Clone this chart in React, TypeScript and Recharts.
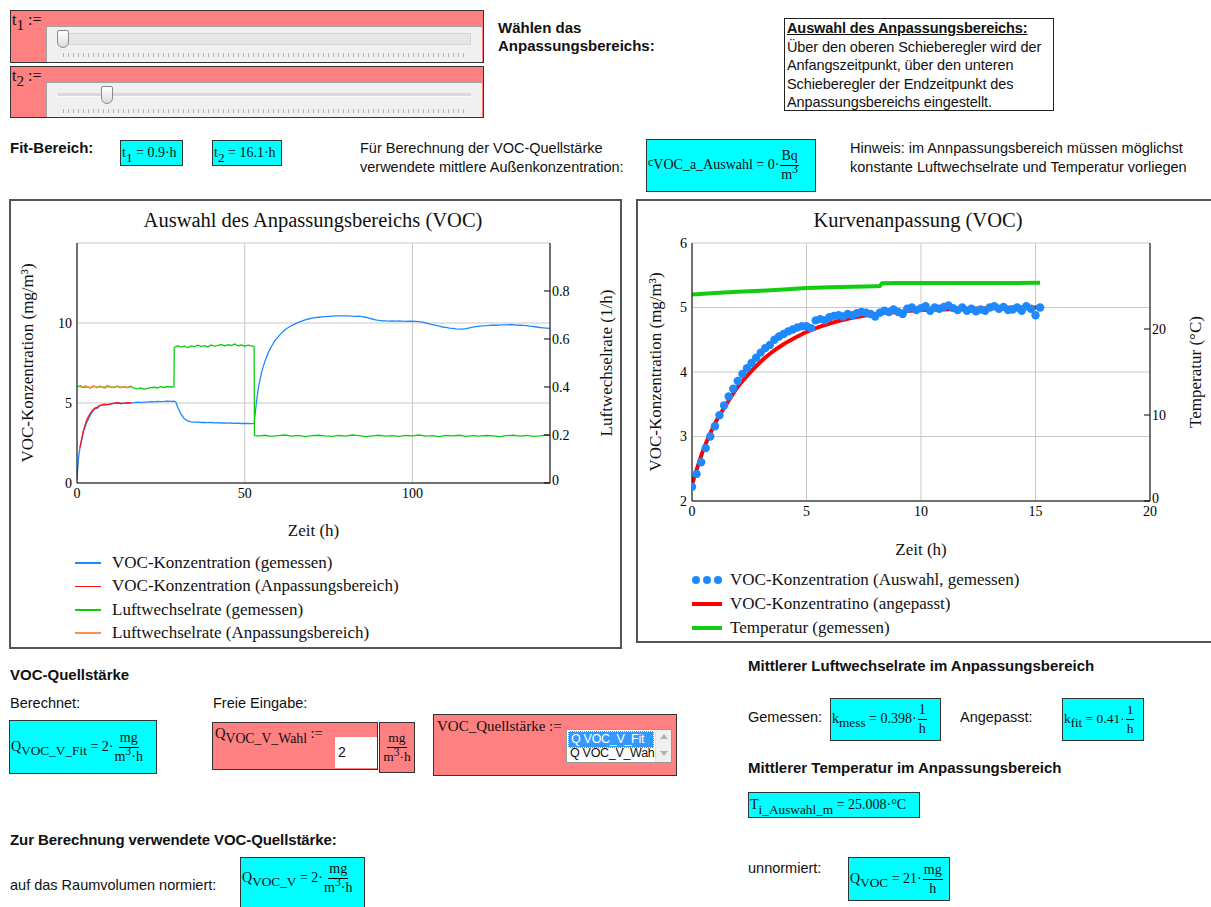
import React from 'react';
import { ComposedChart, Line, Scatter, XAxis, YAxis, CartesianGrid } from 'recharts';

// ---------------- Data: left chart (Auswahl des Anpassungsbereichs) ----------------
const vocMeasuredT = [0, 0.3, 0.6, 0.9, 2, 3, 4, 5, 6, 7, 8, 9, 10, 11, 12, 13, 14, 15, 16, 17, 18, 19, 20, 21, 22, 23, 24, 25, 26, 27, 28, 29, 29.5, 30, 31, 32, 33, 34, 35, 36, 37, 38, 39, 40, 41, 42, 43, 44, 45, 46, 47, 48, 49, 50, 51, 52, 52.8, 53.2, 53.7, 54.2, 55, 56, 57, 58, 59, 60, 61, 62, 63, 64, 65, 66, 67, 68, 69, 70, 71, 72, 73, 74, 75, 76, 77, 78, 79, 80, 81, 82, 83, 84, 85, 86, 87, 88, 89, 90, 91, 92, 93, 94, 95, 96, 97, 98, 99, 100, 101, 102, 103, 104, 105, 106, 107, 108, 109, 110, 111, 112, 113, 114, 115, 116, 117, 118, 119, 120, 121, 122, 123, 124, 125, 126, 127, 128, 129, 130, 131, 132, 133, 134, 135, 136, 137, 138, 139, 140, 141];
const vocMeasuredV = [0.2, 1.2, 1.8, 2.22, 3.3, 3.82, 4.25, 4.57, 4.7, 4.84, 4.88, 4.9, 4.93, 4.98, 5.0, 4.97, 4.98, 5.01, 5.0, 5.02, 5.05, 5.03, 5.06, 5.05, 5.08, 5.07, 5.1, 5.09, 5.1, 5.12, 5.1, 5.12, 5.05, 4.75, 4.3, 4.02, 3.88, 3.82, 3.8, 3.8, 3.78, 3.79, 3.77, 3.78, 3.76, 3.77, 3.75, 3.76, 3.74, 3.75, 3.73, 3.74, 3.72, 3.73, 3.72, 3.71, 3.72, 4.5, 5.4, 6.1, 6.9, 7.6, 8.15, 8.55, 8.9, 9.15, 9.38, 9.58, 9.72, 9.84, 9.94, 10.04, 10.12, 10.19, 10.25, 10.3, 10.33, 10.36, 10.38, 10.4, 10.42, 10.43, 10.44, 10.45, 10.44, 10.45, 10.44, 10.43, 10.42, 10.43, 10.4, 10.36, 10.3, 10.25, 10.2, 10.16, 10.14, 10.13, 10.12, 10.13, 10.12, 10.13, 10.12, 10.1, 10.11, 10.12, 10.1, 10.08, 10.05, 10.0, 9.95, 9.9, 9.85, 9.8, 9.75, 9.72, 9.68, 9.66, 9.63, 9.62, 9.62, 9.65, 9.7, 9.74, 9.77, 9.8, 9.82, 9.83, 9.85, 9.86, 9.86, 9.87, 9.88, 9.88, 9.9, 9.89, 9.87, 9.86, 9.85, 9.83, 9.8, 9.78, 9.75, 9.72, 9.7, 9.68, 9.66];

const vocSelectedT = [0.9, 1.3, 1.7, 2.1, 2.5, 2.9, 3.3, 3.7, 4.1, 4.5, 4.9, 5.3, 5.7, 6.1, 6.5, 6.9, 7.5, 8.1, 9.1, 10.1, 11.1, 12.1, 13.1, 14.1, 15.1, 16.1];
const vocSelectedV = [2.22, 2.62, 3.05, 3.4, 3.68, 3.92, 4.1, 4.26, 4.4, 4.52, 4.6, 4.67, 4.72, 4.68, 4.82, 4.85, 4.88, 4.92, 4.9, 4.95, 4.99, 5.02, 4.97, 4.99, 5.02, 5.0];

const airMeasuredT = [0, 1, 2, 3, 4, 5, 6, 7, 8, 9, 10, 11, 12, 13, 14, 15, 16, 17, 18, 19, 20, 21, 22, 23, 24, 25, 26, 27, 28, 28.9, 29.0, 30, 31, 32, 33, 34, 35, 36, 37, 38, 39, 40, 41, 42, 43, 44, 45, 46, 47, 48, 49, 50, 51, 52, 52.8, 52.9, 54, 56, 58, 60, 62, 64, 66, 68, 70, 72, 74, 76, 78, 80, 82, 84, 86, 88, 90, 92, 94, 96, 98, 100, 102, 104, 106, 108, 110, 112, 114, 116, 118, 120, 122, 124, 126, 128, 130, 132, 134, 136, 138, 140, 141];
const airMeasuredV = [0.4, 0.405, 0.398, 0.402, 0.396, 0.404, 0.399, 0.402, 0.397, 0.405, 0.4, 0.398, 0.403, 0.399, 0.401, 0.397, 0.403, 0.395, 0.392, 0.396, 0.39, 0.394, 0.397, 0.399, 0.396, 0.401, 0.398, 0.402, 0.4, 0.401, 0.565, 0.572, 0.566, 0.57, 0.564, 0.571, 0.568, 0.574, 0.569, 0.572, 0.567, 0.575, 0.57, 0.573, 0.577, 0.571, 0.576, 0.573, 0.579, 0.572, 0.575, 0.57, 0.574, 0.571, 0.568, 0.198, 0.195, 0.199, 0.194, 0.197, 0.2, 0.195, 0.198, 0.193, 0.197, 0.199, 0.196, 0.194, 0.198, 0.195, 0.2, 0.197, 0.193, 0.196, 0.199, 0.195, 0.197, 0.194, 0.198, 0.196, 0.2, 0.195, 0.197, 0.193, 0.198, 0.196, 0.199, 0.194, 0.197, 0.195, 0.198, 0.196, 0.193, 0.197, 0.199, 0.195, 0.198, 0.194, 0.196, 0.2, 0.197];

const airSelectedT = [0.9, 1.4, 1.9, 2.4, 2.9, 3.4, 3.9, 4.4, 4.9, 5.4, 5.9, 6.4, 6.9, 7.4, 7.9, 8.4, 8.9, 9.4, 9.9, 10.4, 10.9, 11.4, 11.9, 12.4, 12.9, 13.4, 13.9, 14.4, 14.9, 15.4, 15.9, 16.1];
const airSelectedV = [0.403, 0.397, 0.401, 0.406, 0.398, 0.402, 0.395, 0.404, 0.399, 0.403, 0.396, 0.401, 0.405, 0.398, 0.4, 0.394, 0.402, 0.399, 0.404, 0.397, 0.401, 0.398, 0.405, 0.4, 0.396, 0.402, 0.399, 0.403, 0.397, 0.401, 0.398, 0.4];

// ---------------- Data: right chart (Kurvenanpassung) ----------------
const fitDotsT = [0, 0.2, 0.4, 0.6, 0.8, 1.0, 1.2, 1.4, 1.6, 1.8, 2.0, 2.2, 2.4, 2.6, 2.8, 3.0, 3.2, 3.4, 3.6, 3.8, 4.0, 4.2, 4.4, 4.6, 4.8, 5.0, 5.2, 5.4, 5.6, 5.8, 6.0, 6.2, 6.4, 6.6, 6.8, 7.0, 7.2, 7.4, 7.6, 7.8, 8.0, 8.2, 8.4, 8.6, 8.8, 9.0, 9.2, 9.4, 9.6, 9.8, 10.0, 10.2, 10.4, 10.6, 10.8, 11.0, 11.2, 11.4, 11.6, 11.8, 12.0, 12.2, 12.4, 12.6, 12.8, 13.0, 13.2, 13.4, 13.6, 13.8, 14.0, 14.2, 14.4, 14.6, 14.8, 15.0, 15.2];
const fitDotsV = [2.22, 2.42, 2.6, 2.82, 3.0, 3.16, 3.33, 3.48, 3.62, 3.74, 3.86, 3.97, 4.06, 4.14, 4.22, 4.3, 4.37, 4.42, 4.5, 4.55, 4.59, 4.63, 4.66, 4.69, 4.71, 4.71, 4.68, 4.8, 4.82, 4.8, 4.85, 4.87, 4.88, 4.86, 4.9, 4.88, 4.91, 4.93, 4.92, 4.9, 4.86, 4.92, 4.95, 4.93, 4.97, 4.93, 4.9, 4.98, 5.0, 4.96, 4.99, 5.02, 4.95, 5.0, 4.98, 5.01, 5.03, 4.99, 4.96, 5.0, 4.95, 4.98, 4.94, 4.97, 4.95, 5.0, 5.02, 4.98, 5.01, 4.96, 4.97, 5.0, 4.95, 5.02, 4.98, 4.88, 5.0];

const fitCurveT = [0, 0.5, 1, 1.5, 2, 2.5, 3, 3.5, 4, 4.5, 5, 6, 7, 8, 9, 10, 11, 12, 13, 14, 15.2];
const fitCurveV = [2.25, 2.8, 3.2, 3.5, 3.77, 3.98, 4.16, 4.31, 4.43, 4.53, 4.62, 4.75, 4.84, 4.9, 4.93, 4.96, 4.97, 4.98, 4.99, 5.0, 5.0];

const tempT = [0, 1, 2, 3, 4, 5, 6, 7, 8, 8.2, 8.3, 9, 10, 11, 12, 13, 14, 15, 15.2];
const tempV = [24.0, 24.18, 24.32, 24.45, 24.6, 24.78, 24.85, 24.92, 24.98, 25.0, 25.33, 25.34, 25.35, 25.35, 25.36, 25.36, 25.36, 25.37, 25.37];

// ---------------- Axis ticks / labels ----------------
const leftXTicks = [0, 50, 100];
const leftYTicks = [0, 5, 10];
const leftY2Ticks = [0, 0.2, 0.4, 0.6, 0.8];
const rightXTicks = [0, 5, 10, 15, 20];
const rightYTicks = [2, 3, 4, 5, 6];
const rightY2Ticks = [0, 10, 20];

const leftLegend = [
  { name: 'VOC-Konzentration (gemessen)', color: '#1e88ff' },
  { name: 'VOC-Konzentration (Anpassungsbereich)', color: '#ff1010' },
  { name: 'Luftwechselrate (gemessen)', color: '#10cc10' },
  { name: 'Luftwechselrate (Anpassungsbereich)', color: '#ff8c50' },
];
const rightLegend = [
  { name: 'VOC-Konzentration (Auswahl, gemessen)', color: '#1e88ff', dots: true },
  { name: 'VOC-Konzentratino (angepasst)', color: '#ff0000', dots: false },
  { name: 'Temperatur (gemessen)', color: '#11cc11', dots: false },
];

const zip = (t: number[], v: number[]) => t.map((x, i) => ({ t: x, v: v[i] }));
const leftBlue = zip(vocMeasuredT, vocMeasuredV);
const leftRed = zip(vocSelectedT, vocSelectedV);
const leftGreen = zip(airMeasuredT, airMeasuredV);
const leftOrange = zip(airSelectedT, airSelectedV);
const rightDots = zip(fitDotsT, fitDotsV);
const rightFit = zip(fitCurveT, fitCurveV);
const rightTemp = zip(tempT, tempV);

const SERIF = '"Liberation Serif", "Times New Roman", serif';
const SANS = '"Liberation Sans", Arial, sans-serif';
const PINK = '#ff8080';
const CYAN = '#00ffff';

const tickStyle = { fontFamily: SERIF, fontSize: 14, fill: '#000' };

function Txt({ x, y, size = 13, bold = false, font = SANS, children, style }: any) {
  const lh = Math.round(size * 1.3);
  return (
    <div style={{ position: 'absolute', left: x, top: y - lh / 2, fontSize: size, lineHeight: `${lh}px`, fontFamily: font, fontWeight: bold ? 700 : 400, whiteSpace: 'nowrap', color: '#111', ...style }}>
      {children}
    </div>
  );
}

function Frac({ n, d }: any) {
  return (
    <span style={{ display: 'inline-flex', flexDirection: 'column', alignItems: 'center', verticalAlign: 'middle', lineHeight: '18px', margin: '0 1px' }}>
      <span style={{ borderBottom: '1px solid #000', padding: '0 1px' }}>{n}</span>
      <span>{d}</span>
    </span>
  );
}

function MBox({ x, y, w, h, bg = CYAN, children, style, top }: any) {
  return (
    <div style={{ position: 'absolute', left: x, top: y, width: w, height: h, boxSizing: 'border-box', background: bg, border: '1px solid #333', display: 'flex', alignItems: top ? 'flex-start' : 'center', fontFamily: SERIF, fontSize: 14, whiteSpace: 'nowrap', paddingLeft: 1, overflow: 'hidden', ...style }}>
      <span style={{ display: 'inline-block', lineHeight: '18px' }}>{children}</span>
    </div>
  );
}

const Sub = ({ children }: any) => <sub style={{ fontSize: '0.95em', verticalAlign: '-0.35em', lineHeight: 0 }}>{children}</sub>;
const M3H = () => <span>m<sup style={{ fontSize: '0.85em', lineHeight: 0 }}>3</sup>·h</span>;

function Slider({ top, h, thumbLeft, wideTrack, label }: any) {
  return (
    <div style={{ position: 'absolute', left: 10, top, width: 474, height: h, background: PINK, border: '1px solid #333', boxSizing: 'border-box' }}>
      <div style={{ position: 'absolute', left: 1, top: 0, fontFamily: SERIF, fontSize: 16 }}>
        t<Sub>{label}</Sub> :=
      </div>
      <div style={{ position: 'absolute', left: 35, top: 15, width: 436, height: h - 17, background: '#f0f0f0', borderTop: '1px solid #a0a0a0', borderLeft: '1px solid #a0a0a0', boxSizing: 'border-box' }}>
        {wideTrack ? (
          <div style={{ position: 'absolute', left: 12, top: 6, width: 412, height: 12, background: '#e4e6e8', border: '1px solid #d4d4d4', boxSizing: 'border-box' }} />
        ) : (
          <div style={{ position: 'absolute', left: 11, top: 10, width: 413, height: 3, background: '#d8d8d8', borderBottom: '1px solid #f8f8f8' }} />
        )}
        <div style={{ position: 'absolute', left: thumbLeft, top: 3, width: 12, height: 18, background: 'linear-gradient(#ffffff, #dcdcdc)', border: '1px solid #8a8a8a', borderRadius: '2px 2px 6px 6px', boxSizing: 'border-box' }} />
        <div style={{ position: 'absolute', left: 16, top: 26, width: 404, height: 4, background: 'repeating-linear-gradient(90deg, #b0b0b0 0 1px, transparent 1px 5px)' }} />
      </div>
    </div>
  );
}

const XTitle = ({ viewBox, value, dy }: any) => (
  <text x={viewBox.x + viewBox.width / 2} y={viewBox.y + dy} textAnchor="middle" dominantBaseline="central" fontFamily={SERIF} fontSize={17} fill="#111">
    {value}
  </text>
);
const YTitle = ({ viewBox, value, dx }: any) => {
  const cx = viewBox.x + dx;
  const cy = viewBox.y + viewBox.height / 2;
  return (
    <text x={cx} y={cy} transform={`rotate(-90 ${cx} ${cy})`} textAnchor="middle" dominantBaseline="central" fontFamily={SERIF} fontSize={17} fill="#111">
      {value}
    </text>
  );
};

const rightTick = (props: any) => {
  const { x, y, payload } = props;
  return (
    <g>
      <line x1={x - 6} x2={x} y1={y} y2={y} stroke="#000" />
      <text x={x + 2} y={payload.value === 0 ? y - 3 : y} dy="0.35em" textAnchor="start" {...tickStyle}>
        {String(payload.value)}
      </text>
    </g>
  );
};

function LeftChart() {
  return (
    <div style={{ position: 'absolute', left: 11, top: 201 }}>
      <ComposedChart width={609} height={446} margin={{ top: 42, right: 10, bottom: 134, left: 0 }}>
        <CartesianGrid xAxisId={0} yAxisId="l" stroke="#c8c8c8" />
        <XAxis xAxisId={0} dataKey="t" type="number" domain={[0, 141]} ticks={leftXTicks} allowDataOverflow height={30} tickSize={0} tickMargin={5} tick={tickStyle} axisLine={{ stroke: '#000' }} label={<XTitle value="Zeit (h)" dy={47} />} />
        <XAxis xAxisId="top" orientation="top" dataKey="t" type="number" domain={[0, 141]} allowDataOverflow height={0} tick={false} tickLine={false} axisLine={{ stroke: '#000' }} />
        <YAxis yAxisId="l" type="number" domain={[0, 15]} ticks={leftYTicks} allowDataOverflow width={66} tickSize={0} tickMargin={5} tick={tickStyle} axisLine={{ stroke: '#000' }} label={<YTitle value="VOC-Konzentration (mg/m³)" dx={16} />} />
        <YAxis yAxisId="r" orientation="right" type="number" domain={[0, 1]} ticks={leftY2Ticks} allowDataOverflow width={60} tickSize={0} tickMargin={0} tickLine={false} tick={rightTick} axisLine={{ stroke: '#000' }} label={<YTitle value="Luftwechselrate (1/h)" dx={56} />} />
        <Line data={leftBlue} dataKey="v" xAxisId={0} yAxisId="l" type="linear" stroke={leftLegend[0].color} strokeWidth={1.3} dot={false} isAnimationActive={false} />
        <Line data={leftRed} dataKey="v" xAxisId={0} yAxisId="l" type="linear" stroke={leftLegend[1].color} strokeWidth={1.3} dot={false} isAnimationActive={false} />
        <Line data={leftGreen} dataKey="v" xAxisId={0} yAxisId="r" type="linear" stroke={leftLegend[2].color} strokeWidth={1.3} dot={false} isAnimationActive={false} />
        <Line data={leftOrange} dataKey="v" xAxisId={0} yAxisId="r" type="linear" stroke={leftLegend[3].color} strokeWidth={1.3} dot={false} isAnimationActive={false} />
      </ComposedChart>
    </div>
  );
}

function RightChart() {
  return (
    <div style={{ position: 'absolute', left: 638, top: 201 }}>
      <ComposedChart width={572} height={440} margin={{ top: 42, right: 10, bottom: 110, left: 0 }}>
        <CartesianGrid xAxisId={0} yAxisId="l" stroke="#c8c8c8" />
        <XAxis xAxisId={0} dataKey="t" type="number" domain={[0, 20]} ticks={rightXTicks} allowDataOverflow height={30} tickSize={0} tickMargin={5} tick={tickStyle} axisLine={{ stroke: '#000' }} label={<XTitle value="Zeit (h)" dy={48} />} />
        <XAxis xAxisId="top" orientation="top" dataKey="t" type="number" domain={[0, 20]} allowDataOverflow height={0} tick={false} tickLine={false} axisLine={{ stroke: '#000' }} />
        <YAxis yAxisId="l" type="number" domain={[2, 6]} ticks={rightYTicks} allowDataOverflow width={54} tickSize={0} tickMargin={5} tick={tickStyle} axisLine={{ stroke: '#000' }} label={<YTitle value="VOC-Konzentration (mg/m³)" dx={17} />} />
        <YAxis yAxisId="r" orientation="right" type="number" domain={[0, 30]} ticks={rightY2Ticks} allowDataOverflow width={50} tickSize={0} tickMargin={0} tickLine={false} tick={rightTick} axisLine={{ stroke: '#000' }} label={<YTitle value="Temperatur (°C)" dx={45} />} />
        <Scatter data={rightDots} dataKey="v" xAxisId={0} yAxisId="l" fill={rightLegend[0].color} isAnimationActive={false} shape={(p: any) => <circle cx={p.cx} cy={p.cy} r={4.2} fill={rightLegend[0].color} />} />
        <Line data={rightFit} dataKey="v" xAxisId={0} yAxisId="l" type="monotone" stroke={rightLegend[1].color} strokeWidth={4} dot={false} isAnimationActive={false} />
        <Line data={rightTemp} dataKey="v" xAxisId={0} yAxisId="r" type="linear" stroke={rightLegend[2].color} strokeWidth={4} dot={false} isAnimationActive={false} />
      </ComposedChart>
    </div>
  );
}

const arrowUp = { width: 0, height: 0, borderLeft: '4px solid transparent', borderRight: '4px solid transparent', borderBottom: '5px solid #b0b0b0', margin: '4px auto 0' };
const arrowDown = { width: 0, height: 0, borderLeft: '4px solid transparent', borderRight: '4px solid transparent', borderTop: '5px solid #b0b0b0', margin: '12px auto 0' };

export default function App() {
  return (
    <div style={{ position: 'absolute', left: 0, top: 0, width: 1211, height: 907, background: '#fff', overflow: 'hidden', fontFamily: SANS, color: '#111' }}>
      {/* Sliders */}
      <Slider top={10} h={53} thumbLeft={10} wideTrack label="1" />
      <Slider top={66} h={52} thumbLeft={54} wideTrack={false} label="2" />

      <Txt x={498} y={28} size={15} bold>Wählen das</Txt>
      <Txt x={498} y={46} size={15} bold>Anpassungsbereichs:</Txt>

      <div style={{ position: 'absolute', left: 784, top: 18, width: 270, height: 93, border: '1px solid #222', boxSizing: 'border-box', fontFamily: SANS, fontSize: 14.5, lineHeight: '18.5px', padding: '0 0 0 2px', whiteSpace: 'nowrap', letterSpacing: '-0.1px' }}>
        <div style={{ fontWeight: 700, textDecoration: 'underline' }}>Auswahl des Anpassungsbereichs:</div>
        <div>Über den oberen Schieberegler wird der</div>
        <div>Anfangszeitpunkt, über den unteren</div>
        <div>Schieberegler der Endzeitpunkt des</div>
        <div>Anpassungsbereichs eingestellt.</div>
      </div>

      <Txt x={10} y={148} size={15} bold>Fit-Bereich:</Txt>
      <MBox x={120} y={140} w={63} h={26}>t<Sub>1</Sub> = 0.9·h</MBox>
      <MBox x={212} y={140} w={70} h={26}>t<Sub>2</Sub> = 16.1·h</MBox>

      <Txt x={360} y={148} size={14.5}>Für Berechnung der VOC-Quellstärke</Txt>
      <Txt x={360} y={167} size={14.5}>verwendete mittlere Außenkonzentration:</Txt>
      <MBox x={646} y={139} w={170} h={53}>
        <span style={{ fontSize: 12, verticalAlign: '0.25em' }}>c</span>VOC_a_Auswahl = 0·<Frac n="Bq" d={<span>m<sup style={{ fontSize: '0.85em', lineHeight: 0 }}>3</sup></span>} />
      </MBox>
      <Txt x={850} y={148} size={14.5}>Hinweis: im Annpassungsbereich müssen möglichst</Txt>
      <Txt x={850} y={167} size={14.5}>konstante Luftwechselrate und Temperatur vorliegen</Txt>

      {/* Chart panels */}
      <div style={{ position: 'absolute', left: 9, top: 199, width: 613, height: 450, border: '2px solid #555', boxSizing: 'border-box' }} />
      <div style={{ position: 'absolute', left: 636, top: 199, width: 590, height: 444, border: '2px solid #555', boxSizing: 'border-box' }} />

      <Txt x={10} y={220} size={20.5} font={SERIF} style={{ width: 606, textAlign: 'center' }}>Auswahl des Anpassungsbereichs (VOC)</Txt>
      <Txt x={637} y={220} size={20.5} font={SERIF} style={{ width: 562, textAlign: 'center' }}>Kurvenanpassung (VOC)</Txt>

      <LeftChart />
      <RightChart />

      {/* Legends */}
      {leftLegend.map((it, i) => (
        <div key={it.name} style={{ position: 'absolute', left: 75, top: 563 + i * 23.4 - 11, height: 22, display: 'flex', alignItems: 'center', fontFamily: SERIF, fontSize: 17, whiteSpace: 'nowrap' }}>
          <span style={{ display: 'inline-block', width: 26, height: 1.5, background: it.color, marginRight: 11 }} />
          {it.name}
        </div>
      ))}
      {rightLegend.map((it, i) => (
        <div key={it.name} style={{ position: 'absolute', left: 692, top: 580 + i * 24 - 11, height: 22, display: 'flex', alignItems: 'center', fontFamily: SERIF, fontSize: 17, whiteSpace: 'nowrap' }}>
          {it.dots ? (
            <span style={{ display: 'inline-flex', width: 30, justifyContent: 'space-between', marginRight: 8 }}>
              {[0, 1, 2].map((k) => (
                <span key={k} style={{ width: 8, height: 8, borderRadius: 4, background: it.color, display: 'inline-block' }} />
              ))}
            </span>
          ) : (
            <span style={{ display: 'inline-block', width: 30, height: 4, background: it.color, marginRight: 8 }} />
          )}
          {it.name}
        </div>
      ))}

      {/* VOC-Quellstärke */}
      <Txt x={10} y={675} size={15} bold>VOC-Quellstärke</Txt>
      <Txt x={10} y={703} size={14.5}>Berechnet:</Txt>
      <Txt x={213} y={703} size={14.5}>Freie Eingabe:</Txt>
      <MBox x={9} y={720} w={148} h={54}>
        Q<Sub>VOC_V_Fit</Sub> = 2·<Frac n="mg" d={<M3H />} />
      </MBox>
      <div style={{ position: 'absolute', left: 212, top: 722, width: 166, height: 48, boxSizing: 'border-box', background: PINK, border: '1px solid #333', fontFamily: SERIF, fontSize: 14.5, whiteSpace: 'nowrap', paddingLeft: 2, paddingTop: 2 }}>
        Q<Sub>VOC_V_Wahl</Sub> :=
        <div style={{ position: 'absolute', left: 122, top: 14, width: 42, height: 31, background: '#fff', fontFamily: SANS, fontSize: 14, lineHeight: '31px', paddingLeft: 3, boxSizing: 'border-box' }}>2</div>
      </div>
      <MBox x={379} y={722} w={36} h={51} bg={PINK} style={{ justifyContent: 'center', paddingLeft: 0, fontSize: 13.5 }}>
        <Frac n="mg" d={<M3H />} />
      </MBox>
      <div style={{ position: 'absolute', left: 433, top: 714, width: 244, height: 62, boxSizing: 'border-box', background: PINK, border: '1px solid #333', fontFamily: SERIF, fontSize: 15, whiteSpace: 'nowrap', paddingLeft: 3, paddingTop: 3 }}>
        VOC_Quellstärke :=
        <div style={{ position: 'absolute', left: 132, top: 14, width: 106, height: 34, background: '#fff', border: '1px solid #999', boxSizing: 'border-box', fontFamily: SANS, fontSize: 12.5, lineHeight: '15px', letterSpacing: '-0.3px' }}>
          <div style={{ position: 'absolute', left: 1, top: 1, width: 86, background: '#3399ff', color: '#fff', paddingLeft: 2, border: '1px dotted #fff', boxSizing: 'border-box' }}>Q VOC_V_Fit</div>
          <div style={{ position: 'absolute', left: 1, top: 16, width: 87, paddingLeft: 2 }}>Q VOC_V_Wahl</div>
          <div style={{ position: 'absolute', right: 0, top: 0, width: 15, height: 32, background: '#f0f0f0', borderLeft: '1px solid #e0e0e0' }}>
            <div style={arrowUp} />
            <div style={arrowDown} />
          </div>
        </div>
      </div>

      {/* Luftwechselrate / Temperatur */}
      <Txt x={748} y={666} size={15} bold>Mittlerer Luftwechselrate im Anpassungsbereich</Txt>
      <Txt x={748} y={717} size={14.5}>Gemessen:</Txt>
      <MBox x={830} y={698} w={111} h={43}>
        k<Sub>mess</Sub> = 0.398·<Frac n="1" d="h" />
      </MBox>
      <Txt x={960} y={717} size={14.5}>Angepasst:</Txt>
      <MBox x={1062} y={698} w={82} h={43} style={{ fontSize: 13.5 }}>
        k<Sub>fit</Sub> = 0.41·<Frac n="1" d="h" />
      </MBox>
      <Txt x={748} y={768} size={15} bold>Mittlerer Temperatur im Anpassungsbereich</Txt>
      <MBox x={748} y={792} w={172} h={26}>
        T<Sub>i_Auswahl_m</Sub> = 25.008·°C
      </MBox>

      {/* Zur Berechnung */}
      <Txt x={10} y={840} size={15} bold style={{ letterSpacing: '-0.1px' }}>Zur Berechnung verwendete VOC-Quellstärke:</Txt>
      <Txt x={10} y={885} size={14.5}>auf das Raumvolumen normiert:</Txt>
      <MBox x={240} y={857} w={125} h={54} top style={{ paddingTop: 2 }}>
        Q<Sub>VOC_V</Sub> = 2·<Frac n="mg" d={<M3H />} />
      </MBox>
      <Txt x={748} y={868} size={14.5}>unnormiert:</Txt>
      <MBox x={848} y={857} w={102} h={44}>
        Q<Sub>VOC</Sub> = 21·<Frac n="mg" d="h" />
      </MBox>
    </div>
  );
}
